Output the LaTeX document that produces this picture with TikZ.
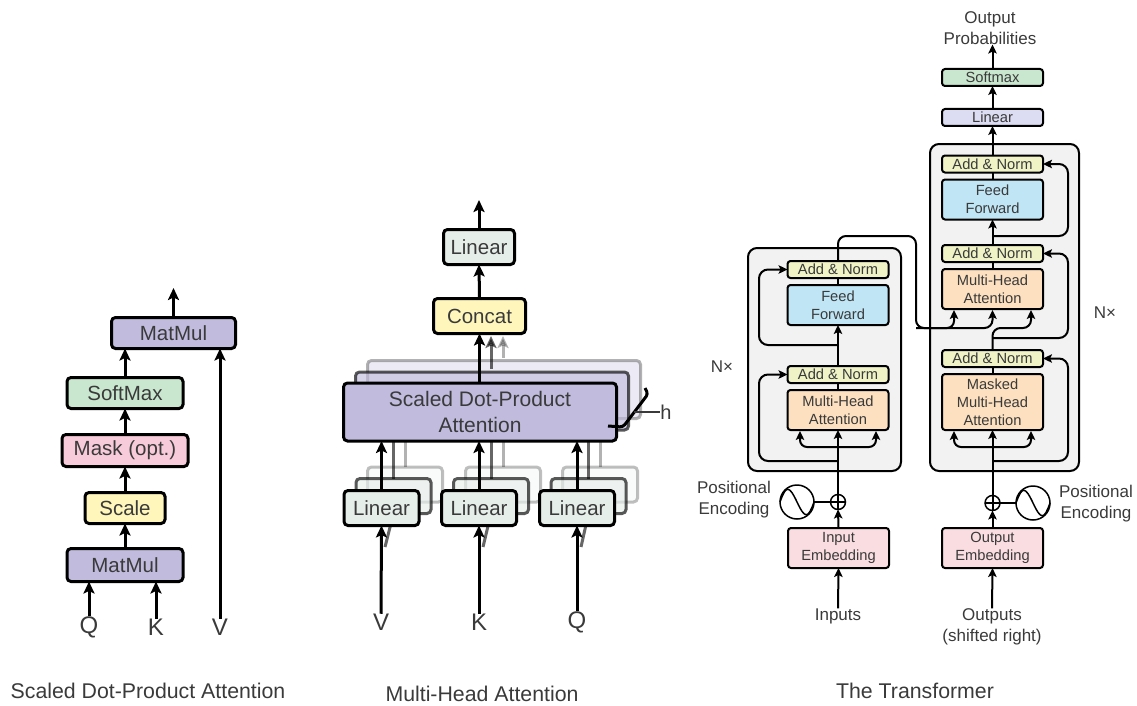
\documentclass[tikz,border=0pt]{standalone}
\usepackage{fontspec}
\setmainfont{Liberation Sans}
\usepackage{tikz}
\usetikzlibrary{shapes,arrows,arrows.meta,positioning,calc}
\definecolor{txtgray}{HTML}{3A3A3A}
\definecolor{boxpurple}{HTML}{C1BBDD}
\definecolor{boxyellow}{HTML}{FFF6BC}
\definecolor{boxpink}{HTML}{F8CBDA}
\definecolor{boxgreen}{HTML}{C9E6CE}
\definecolor{boxmint}{HTML}{E6EEEA}
\definecolor{boxnorm}{HTML}{EFF3C6}
\definecolor{boxblue}{HTML}{C0E5F5}
\definecolor{boxorange}{HTML}{FCE0C0}
\definecolor{boxembed}{HTML}{FADDE0}
\definecolor{boxlavender}{HTML}{DCDCF2}
\definecolor{panelgray}{HTML}{F2F2F2}

\begin{document}
\begin{tikzpicture}[auto, x=1pt, y=-1pt, text=txtgray,
        every node/.style={outer sep=0pt, inner sep=0pt, align=center},
        bigbox/.style={draw=black, line width=3pt, rounded corners=4pt, font=\fontsize{20.5}{26}\selectfont},
        smallbox/.style={draw=black, line width=2pt, rounded corners=3pt, minimum width=101pt, font=\fontsize{14.7}{18}\selectfont},
        addnorm/.style={smallbox, fill=boxnorm, minimum height=17pt},
        feedfwd/.style={smallbox, fill=boxblue, minimum height=40pt},
        attn/.style={smallbox, fill=boxorange, minimum height=40pt},
        embed/.style={smallbox, fill=boxembed, minimum height=40pt},
        panel/.style={draw=black, line width=2pt, fill=panelgray, rounded corners=9pt},
        plusnode/.style={circle, draw=black, line width=1.5pt, fill=white, minimum size=15pt},
        sinenode/.style={circle, draw=black, line width=1.5pt, minimum size=34pt},
        lbl/.style={font=\fontsize{17}{21}\selectfont},
        biglbl/.style={font=\fontsize{24}{28}\selectfont},
        caption/.style={font=\fontsize{21.3}{24}\selectfont},
        thick1/.style={line width=2pt, >={Stealth[length=9pt,width=8.5pt,inset=2pt]}},
        thick2/.style={line width=3pt, >={Stealth[length=12pt,width=11pt,inset=2.5pt]}},
        sdpashadow/.style={draw=black, line width=3pt, fill=boxpurple, rounded corners=4pt, minimum width=273pt, minimum height=58pt},
        linshadow/.style={draw=black, line width=3pt, fill=boxmint, rounded corners=4pt, minimum width=75pt, minimum height=35pt},
        linbox/.style={bigbox, fill=boxmint, minimum width=75pt, minimum height=35pt}]
        \useasboundingbox (0,0) rectangle (1137,706);

        % scaled dot-product attention
        \node [bigbox, fill=boxpurple, minimum width=116pt, minimum height=33pt] (mmLow) at (125,565) {MatMul};
        \node [bigbox, fill=boxyellow, minimum width=80pt, minimum height=31pt, above=25pt of mmLow] (scale) {Scale};
        \node [bigbox, fill=boxpink, minimum width=126pt, minimum height=32pt, above=26pt of scale] (mask) {Mask (opt.)};
        \node [bigbox, fill=boxgreen, minimum width=116pt, minimum height=31pt, above=26pt of mask] (softMax) {SoftMax};
        \node [bigbox, fill=boxpurple, minimum width=124pt, minimum height=31pt] (mmTop) at (173.5,333) {MatMul};
        \node [biglbl] (qL) at (89,627) {Q};
        \node [biglbl] (kL) at (156,627) {K};
        \node [biglbl] (vL) at (220,627) {V};
        \coordinate (mmOut) at (173.5,288);
        \draw [thick2, ->] (qL.north) -- (qL.north |- mmLow.south);
        \draw [thick2, ->] (kL.north) -- (kL.north |- mmLow.south);
        \draw [thick2, ->] (vL.north) -- (vL.north |- mmTop.south);
        \draw [thick2, ->] (mmLow.north) -- (scale.south);
        \draw [thick2, ->] (scale.north) -- (mask.south);
        \draw [thick2, ->] (mask.north) -- (softMax.south);
        \draw [thick2, ->] (softMax.north) -- (softMax.north |- mmTop.south);
        \draw [thick2, ->] (mmTop.north) -- (mmOut);

        % multi-head attention, stacked copies first
        \node [sdpashadow, opacity=.3] (sdpaC) at (504,389.5) {};
        \node [linshadow, opacity=.25] (linAc) at (405,484.5) {};
        \node [linshadow, opacity=.25] (linBc) at (503,484.5) {};
        \node [linshadow, opacity=.25] (linCc) at (600,484.5) {};
        \node [sdpashadow, opacity=.65] (sdpaB) at (492,401) {};
        \node [linshadow, opacity=.65] (linAb) at (393.5,496) {};
        \node [linshadow, opacity=.65] (linBb) at (491,496) {};
        \node [linshadow, opacity=.65] (linCb) at (588.5,496) {};
        \coordinate (vTail) at (385,547);
        \coordinate (kTail) at (483,547);
        \coordinate (qTail) at (581,547);
        \draw [thick2, opacity=.6] (vTail) -- (linAb.south);
        \draw [thick2, opacity=.6] (kTail) -- (linBb.south);
        \draw [thick2, opacity=.6] (qTail) -- (linCb.south);
        \draw [thick2, opacity=.6] (linAb.north) -- (linAb.north |- sdpaB.south);
        \draw [thick2, opacity=.6] (linBb.north) -- (linBb.north |- sdpaB.south);
        \draw [thick2, opacity=.6] (linCb.north) -- (linCb.north |- sdpaB.south);
        \draw [thick2, opacity=.3] (linAc.north) -- (linAc.north |- sdpaC.south);
        \draw [thick2, opacity=.3] (linBc.north) -- (linBc.north |- sdpaC.south);
        \draw [thick2, opacity=.3] (linCc.north) -- (linCc.north |- sdpaC.south);

        \node [bigbox, fill=boxpurple, minimum width=273pt, minimum height=58pt, font=\fontsize{21}{26}\selectfont] (sdpa) at (480,412) {Scaled Dot-Product\\Attention};
        \node [linbox] (linA) at (381.5,508) {Linear};
        \node [linbox] (linB) at (479,508) {Linear};
        \node [linbox] (linC) at (577,508) {Linear};
        \node [bigbox, fill=boxyellow, minimum width=92pt, minimum height=35pt] (concat) at (479.5,316) {Concat};
        \node [bigbox, fill=boxmint, minimum width=71pt, minimum height=35pt] (linTop) at (479,247) {Linear};
        \node [biglbl] (vM) at (381,622) {V};
        \node [biglbl] (kM) at (479,622) {K};
        \node [biglbl] (qM) at (577,622) {Q};
        \node [font=\fontsize{20}{24}\selectfont] (hL) at (666,412) {h};
        \coordinate (topOut) at (479,200);
        \coordinate (hA) at (645,388);
        \coordinate (hB) at (648,394);
        \coordinate (hC) at (623,427);
        \coordinate (hD) at (608,426);
        \coordinate (hM) at (634,412);
        \draw [thick2, ->] (vM.north) -- (linA.south);
        \draw [thick2, ->] (kM.north) -- (linB.south);
        \draw [thick2, ->] (qM.north) -- (linC.south);
        \draw [thick2, ->] (linA.north) -- (linA.north |- sdpa.south);
        \draw [thick2, ->] (linB.north) -- (linB.north |- sdpa.south);
        \draw [thick2, ->] (linC.north) -- (linC.north |- sdpa.south);
        \draw [thick2, ->] (sdpa.north -| concat.south) -- (concat.south);
        \draw [thick2, ->, opacity=.6] (491,369) -- (491,336);
        \draw [thick2, ->, opacity=.3] (503,358) -- (503,336);
        \draw [thick2, ->] (concat.north) -- (linTop.south);
        \draw [thick2, ->] (linTop.north) -- (topOut);
        \draw [thick2, rounded corners=3pt] (hA) -- (hB) -- (hC) -- (hD);
        \draw [thick1, draw=txtgray] (hM) -- (hL.west);

        % encoder and decoder panels
        \node [panel, minimum width=153pt, minimum height=223pt] (encPanel) at (824.5,359.5) {};
        \node [panel, minimum width=149pt, minimum height=327pt] (decPanel) at (1004.5,307.5) {};

        \node [attn] (encAttn) at (838,410) {Multi-Head\\Attention};
        \node [addnorm, above=7pt of encAttn] (encNormA) {Add \& Norm};
        \node [feedfwd] (encFF) at (838,305) {Feed\\Forward};
        \node [addnorm, above=7pt of encFF] (encNormB) {Add \& Norm};
        \node [embed] (inEmb) at (838.5,548) {Input\\Embedding};
        \node [plusnode] (encPlus) at (838,502) {};
        \node [sinenode] (encSine) at (797,502) {};
        \node [lbl] (encPos) at (734,500) {Positional\\Encoding};
        \node [lbl] (inputs) at (838,616) {Inputs};
        \node [lbl] (encN) at (722,367) {N×};

        \node [attn, minimum height=56pt] (decMask) at (992.5,402) {Masked\\Multi-Head\\Attention};
        \node [addnorm, above=7pt of decMask] (decNormA) {Add \& Norm};
        \node [attn] (decAttn) at (992.5,289) {Multi-Head\\Attention};
        \node [addnorm, above=7pt of decAttn] (decNormB) {Add \& Norm};
        \node [feedfwd] (decFF) at (992.5,199.5) {Feed\\Forward};
        \node [addnorm, above=7pt of decFF] (decNormC) {Add \& Norm};
        \node [smallbox, fill=boxlavender, minimum height=17pt] (decLin) at (992.5,117.5) {Linear};
        \node [smallbox, fill=boxgreen, minimum height=17pt] (decSoft) at (992.5,77.5) {Softmax};
        \node [embed] (outEmb) at (992.5,548) {Output\\Embedding};
        \node [plusnode] (decPlus) at (992.5,503) {};
        \node [sinenode] (decSine) at (1033,503) {};
        \node [lbl] (decPos) at (1096,504) {Positional\\Encoding};
        \node [lbl, align=center] (outputs) at (992,626.5) {Outputs\\(shifted right)};
        \node [lbl] (decN) at (1105,313) {N×};
        \node [lbl] (probs) at (990,28) {Output\\Probabilities};

        \draw [thick1] (encPlus.north) -- (encPlus.south) (encPlus.west) -- (encPlus.east);
        \draw [thick1] (decPlus.north) -- (decPlus.south) (decPlus.west) -- (decPlus.east);
        \draw [line width=1.5pt] (encSine.west) .. controls +(6,-17) and +(-8,-17) .. (encSine.center) .. controls +(8,17) and +(-6,17) .. (encSine.east);
        \draw [line width=1.5pt] (decSine.west) .. controls +(6,-17) and +(-8,-17) .. (decSine.center) .. controls +(8,17) and +(-6,17) .. (decSine.east);
        \draw [thick1] (encSine) -- (encPlus);
        \draw [thick1] (decSine) -- (decPlus);

        \coordinate (encSplit) at (838,447);
        \coordinate (encResA) at (838,461);
        \coordinate (encResB) at (838,345);
        \coordinate (encLeft) at (759,400);
        \coordinate (encSl) at (800,431);
        \coordinate (encSr) at (876,431);
        \coordinate (encTop) at (838,236);
        \coordinate (encCross) at (916,328);
        \coordinate (decSplit) at (992.5,447);
        \coordinate (decResA) at (992.5,461);
        \coordinate (decResB) at (992.5,338);
        \coordinate (decResC) at (992.5,236);
        \coordinate (decRight) at (1068,300);
        \coordinate (decSl) at (954,431);
        \coordinate (decSr) at (1031,431);
        \coordinate (midA) at (954,310);
        \coordinate (midB) at (992.5,310);
        \coordinate (midC) at (1031,310);
        \coordinate (midY) at (992.5,328);

        \draw [thick1, ->] (inputs.north) -- (inEmb.south);
        \draw [thick1, ->] (inEmb.north) -- (encPlus.south);
        \draw [thick1, ->] (encPlus.north) -- (encAttn.south);
        \draw [thick1, <->, rounded corners=7pt] (encSl) |- (encSplit) -| (encSr);
        \draw [thick1, ->, rounded corners=9pt] (encResA) -- (encResA -| encLeft) -- (encLeft |- encNormA.west) -- (encNormA.west);
        \draw [thick1] (encAttn.north) -- (encNormA.south);
        \draw [thick1, ->] (encNormA.north) -- (encFF.south);
        \draw [thick1, ->, rounded corners=9pt] (encResB) -- (encResB -| encLeft) -- (encLeft |- encNormB.west) -- (encNormB.west);
        \draw [thick1] (encFF.north) -- (encNormB.south);

        \draw [thick1, ->, rounded corners=8pt] (encNormB.north) -- (encTop) -- (encTop -| encCross) -- (encCross) -- (midY) -- (midB);
        \draw [thick1, ->, rounded corners=7pt] (encCross) -- (encCross -| midA) -- (midA);
        \draw [thick1, ->, rounded corners=8pt] (decNormA.north) -- (midY) -- (midY -| midC) -- (midC);

        \draw [thick1, ->] (outputs.north) -- (outEmb.south);
        \draw [thick1, ->] (outEmb.north) -- (decPlus.south);
        \draw [thick1, ->] (decPlus.north) -- (decMask.south);
        \draw [thick1, <->, rounded corners=7pt] (decSl) |- (decSplit) -| (decSr);
        \draw [thick1, ->, rounded corners=9pt] (decResA) -- (decResA -| decRight) -- (decRight |- decNormA.east) -- (decNormA.east);
        \draw [thick1] (decMask.north) -- (decNormA.south);
        \draw [thick1, ->, rounded corners=9pt] (decResB) -- (decResB -| decRight) -- (decRight |- decNormB.east) -- (decNormB.east);
        \draw [thick1] (decAttn.north) -- (decNormB.south);
        \draw [thick1, ->] (decNormB.north) -- (decFF.south);
        \draw [thick1, ->, rounded corners=9pt] (decResC) -- (decResC -| decRight) -- (decRight |- decNormC.east) -- (decNormC.east);
        \draw [thick1] (decFF.north) -- (decNormC.south);
        \draw [thick1, ->] (decNormC.north) -- (decLin.south);
        \draw [thick1, ->] (decLin.north) -- (decSoft.south);
        \draw [thick1, ->] (decSoft.north) -- (probs.south -| decSoft.north);

        % captions
        \node [caption] (capA) at (148,691) {Scaled Dot-Product Attention};
        \node [caption] (capB) at (482,694) {Multi-Head Attention};
        \node [caption] (capC) at (915,691) {The Transformer};
\end{tikzpicture}
\end{document}
